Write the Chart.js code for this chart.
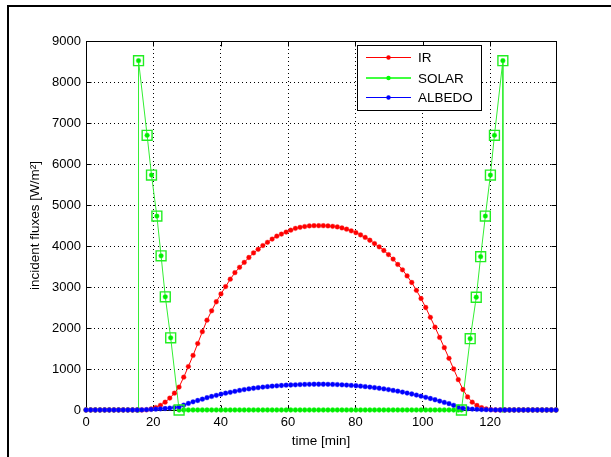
<!DOCTYPE html>
<html>
<head>
<meta charset="utf-8">
<script src="https://cdn.jsdelivr.net/npm/chart.js@4/dist/chart.umd.min.js"></script>
<style>
  html, body { margin: 0; padding: 0; background: #fff; }
  #wrap { position: relative; width: 611px; height: 457px; overflow: hidden; }
  #frame { position: absolute; left: 7px; top: 5px; width: 700px; height: 600px;
           border-top: 2px solid #000; border-left: 2px solid #000; pointer-events: none; }
</style>
</head>
<body>
<div id="wrap">
  <canvas id="c" width="611" height="457"></canvas>
  <div id="frame"></div>
</div>
<script>
// Orbit sampling times [min]
const timeGrid = [
  0, 1.38, 2.76, 4.15, 5.53, 6.91, 8.29, 9.67, 11.06, 12.44,
  13.82, 15.20, 16.58, 17.97, 19.35, 20.73, 22.11, 23.49, 24.88, 26.26,
  27.64, 29.02, 30.40, 31.79, 33.17, 34.55, 35.93, 37.31, 38.70, 40.08,
  41.46, 42.84, 44.22, 45.61, 46.99, 48.37, 49.75, 51.13, 52.52, 53.90,
  55.28, 56.66, 58.04, 59.43, 60.81, 62.19, 63.57, 64.95, 66.34, 67.72,
  69.10, 70.48, 71.86, 73.25, 74.63, 76.01, 77.39, 78.77, 80.16, 81.54,
  82.92, 84.30, 85.68, 87.07, 88.45, 89.83, 91.21, 92.59, 93.98, 95.36,
  96.74, 98.12, 99.50, 100.89, 102.27, 103.65, 105.03, 106.41, 107.80, 109.18,
  110.56, 111.94, 113.32, 114.71, 116.09, 117.47, 118.85, 120.23, 121.62, 123.00,
  124.38, 125.76, 127.14, 128.53, 129.91, 131.29, 132.67, 134.05, 135.44, 136.82,
  138.20, 139.58
];

// Planet infrared flux [W/m2]
const irFlux = [
  0, 0, 0, 0, 0, 0, 0, 0, 0, 0,
  0, 0, 0, 5, 25, 60, 115, 190, 290, 410,
  560, 800, 1060, 1330, 1620, 1910, 2190, 2420, 2640, 2830,
  3010, 3190, 3350, 3480, 3600, 3720, 3830, 3920, 4010, 4090,
  4170, 4240, 4290, 4340, 4385, 4430, 4455, 4475, 4490, 4495,
  4495, 4495, 4490, 4480, 4465, 4440, 4410, 4370, 4325, 4270,
  4210, 4140, 4060, 3980, 3890, 3790, 3680, 3550, 3420, 3270,
  3110, 2920, 2720, 2500, 2260, 2020, 1770, 1520, 1260, 1000,
  740, 500, 320, 190, 110, 55, 25, 8, 0, 0,
  0, 0, 0, 0, 0, 0, 0, 0, 0, 0,
  0, 0
];

// Albedo flux [W/m2]
const albedoFlux = [
  0, 0, 0, 0, 0, 0, 0, 0, 0, 0,
  0, 0, 3, 8, 14, 20, 28, 36, 46, 58,
  75, 120, 160, 200, 232, 265, 300, 330, 358, 385,
  410, 432, 455, 478, 498, 515, 530, 545, 558, 570,
  580, 590, 598, 605, 610, 615, 620, 624, 627, 628,
  628, 628, 627, 624, 620, 614, 607, 600, 592, 582,
  570, 558, 545, 530, 514, 497, 478, 458, 437, 414,
  390, 365, 338, 310, 280, 250, 218, 185, 155, 115,
  70, 42, 30, 22, 16, 11, 7, 4, 2, 0,
  0, 0, 0, 0, 0, 0, 0, 0, 0, 0,
  0, 0
];

// Direct solar flux: eclipse samples plus the sunlit arcs
const solarTimes = [
  0, 1.38, 2.76, 4.15, 5.53, 6.91, 8.29, 9.67, 11.06, 12.44, 13.82, 15.20,
  15.6, 15.6, 18.15, 19.45, 21.05, 22.3, 23.55, 25.15, 27.65,
  29.02, 30.40, 31.79, 33.17, 34.55, 35.93, 37.31, 38.70, 40.08,
  41.46, 42.84, 44.22, 45.61, 46.99, 48.37, 49.75, 51.13, 52.52, 53.90,
  55.28, 56.66, 58.04, 59.43, 60.81, 62.19, 63.57, 64.95, 66.34, 67.72,
  69.10, 70.48, 71.86, 73.25, 74.63, 76.01, 77.39, 78.77, 80.16, 81.54,
  82.92, 84.30, 85.68, 87.07, 88.45, 89.83, 91.21, 92.59, 93.98, 95.36,
  96.74, 98.12, 99.50, 100.89, 102.27, 103.65, 105.03, 106.41, 107.80, 109.18,
  110.56,
  111.5, 114.1, 115.9, 117.2, 118.6, 120.1, 121.3, 123.8, 123.8,
  124.38, 125.76, 127.14, 128.53, 129.91, 131.29, 132.67, 134.05, 135.44, 136.82,
  138.20, 139.58
];
const solarFlux = [
  0, 0, 0, 0, 0, 0, 0, 0, 0, 0, 0, 0,
  0, 8520, 6700, 5730, 4730, 3760, 2760, 1760, 0,
  0, 0, 0, 0, 0, 0, 0, 0, 0,
  0, 0, 0, 0, 0, 0, 0, 0, 0, 0,
  0, 0, 0, 0, 0, 0, 0, 0, 0, 0,
  0, 0, 0, 0, 0, 0, 0, 0, 0, 0,
  0, 0, 0, 0, 0, 0, 0, 0, 0, 0,
  0, 0, 0, 0, 0, 0, 0, 0, 0, 0,
  0,
  0, 1740, 2750, 3740, 4730, 5730, 6700, 8520, 0,
  0, 0, 0, 0, 0, 0, 0, 0, 0, 0,
  0, 0
];

// Sunlit samples highlighted with square markers
const sunTimes = [15.6, 18.15, 19.45, 21.05, 22.3, 23.55, 25.15, 27.65,
                  111.5, 114.1, 115.9, 117.2, 118.6, 120.1, 121.3, 123.8];
const sunFlux = [8520, 6700, 5730, 4730, 3760, 2760, 1760, 0,
                 0, 1740, 2750, 3740, 4730, 5730, 6700, 8520];

const xTickValues = [0, 20, 40, 60, 80, 100, 120];
const yTickValues = [0, 1000, 2000, 3000, 4000, 5000, 6000, 7000, 8000, 9000];
const seriesNames = ['IR', 'SOLAR', 'ALBEDO'];
const seriesColors = ['#ff0000', '#00ff00', '#0000ff'];

const toPoints = (xs, ys) => xs.map((x, i) => ({ x: x, y: ys[i] }));
const FONT = 'Liberation Sans, Arial, Helvetica, sans-serif';

function lineSeries(label, color, halo, data, order) {
  return {
    label: label, data: data, order: order, clip: false,
    borderColor: color, borderWidth: 1, tension: 0,
    pointRadius: 2.4, pointBackgroundColor: color,
    pointBorderColor: halo, pointBorderWidth: 1,
    fill: false
  };
}

// MATLAB-style box, inward ticks and legend
const axesBox = {
  id: 'axesBox',
  beforeDatasetsDraw(chart) {
    const ctx = chart.ctx;
    const a = chart.chartArea;
    const xs = chart.scales.x, ys = chart.scales.y;
    const L = Math.round(a.left) + 0.5, R = Math.round(a.right) + 0.5;
    const T = Math.round(a.top) + 0.5, B = Math.round(a.bottom) + 0.5;
    ctx.save();
    ctx.strokeStyle = '#000';
    ctx.lineWidth = 1;
    ctx.strokeRect(L, T, R - L, B - T);
    ctx.beginPath();
    xs.ticks.forEach(t => {
      const p = Math.round(xs.getPixelForValue(t.value)) + 0.5;
      ctx.moveTo(p, B); ctx.lineTo(p, B - 5);
      ctx.moveTo(p, T); ctx.lineTo(p, T + 5);
    });
    ys.ticks.forEach(t => {
      const p = Math.round(ys.getPixelForValue(t.value)) + 0.5;
      ctx.moveTo(L, p); ctx.lineTo(L + 5, p);
      ctx.moveTo(R, p); ctx.lineTo(R - 5, p);
    });
    ctx.stroke();
    ctx.restore();
  },
  afterDraw(chart) {
    const ctx = chart.ctx;
    ctx.save();
    const bx = 357.5, by = 45.5, bw = 124, bh = 65;
    ctx.fillStyle = '#fff';
    ctx.fillRect(bx, by, bw, bh);
    ctx.strokeStyle = '#000';
    ctx.lineWidth = 1;
    ctx.strokeRect(bx, by, bw, bh);
    const rows = [57.5, 78, 97.5];
    ctx.font = '13.5px ' + FONT;
    ctx.textBaseline = 'middle';
    ctx.textAlign = 'left';
    seriesNames.forEach((name, i) => {
      const y = rows[i];
      ctx.strokeStyle = seriesColors[i];
      ctx.lineWidth = i === 1 ? 1.6 : 1;
      ctx.beginPath();
      ctx.moveTo(366, y); ctx.lineTo(411, y);
      ctx.stroke();
      ctx.fillStyle = seriesColors[i];
      ctx.beginPath();
      ctx.arc(388.5, y, 2.2, 0, Math.PI * 2);
      ctx.fill();
      ctx.fillStyle = '#000';
      ctx.fillText(name, 418, y + 1);
    });
    ctx.restore();
  }
};

new Chart(document.getElementById('c'), {
  type: 'line',
  data: {
    datasets: [
      {
        label: 'sunlit', data: toPoints(sunTimes, sunFlux), order: 0, clip: false,
        showLine: false, pointStyle: 'rect', pointRadius: 7,
        pointBackgroundColor: 'rgba(0,0,0,0)', pointBorderColor: '#22ee22',
        pointBorderWidth: 1.4
      },
      lineSeries('ALBEDO', '#0000ff', 'rgba(60,60,255,0.35)', toPoints(timeGrid, albedoFlux), 1),
      lineSeries('IR', '#ff0000', 'rgba(255,60,60,0.35)', toPoints(timeGrid, irFlux), 2),
      Object.assign(lineSeries('SOLAR', '#00ee00', 'rgba(60,255,60,0.35)', toPoints(solarTimes, solarFlux), 3),
                    { borderColor: '#33ee33' })
    ]
  },
  options: {
    responsive: false,
    animation: false,
    events: [],
    layout: { padding: { left: 0, top: 41, right: 55, bottom: 0 } },
    plugins: { legend: { display: false }, tooltip: { enabled: false } },
    scales: {
      x: {
        type: 'linear', min: 0, max: 139.58,
        afterBuildTicks: s => { s.ticks = xTickValues.map(v => ({ value: v })); },
        afterFit: s => { s.height = 47; },
        ticks: { callback: v => String(v), color: '#000', padding: 5, maxRotation: 0, autoSkip: false,
                 font: { family: FONT, size: 13 } },
        grid: { color: '#000', lineWidth: 1, drawTicks: false },
        border: { display: false, dash: [1, 3] },
        title: { display: true, text: 'time [min]', color: '#000',
                 font: { family: FONT, size: 13.5 }, padding: { top: 0, bottom: 8 } }
      },
      y: {
        type: 'linear', min: 0, max: 9000,
        afterBuildTicks: s => { s.ticks = yTickValues.map(v => ({ value: v })); },
        afterFit: s => { s.width = 86; },
        ticks: { callback: v => String(v), color: '#000', padding: 5,
                 font: { family: FONT, size: 13 } },
        grid: { color: '#000', lineWidth: 1, drawTicks: false },
        border: { display: false, dash: [1, 3] },
        title: { display: true, text: 'incident fluxes [W/m²]', color: '#000',
                 font: { family: FONT, size: 13.5 }, padding: { top: 27, bottom: 0 } }
      }
    }
  },
  plugins: [axesBox]
});
</script>
</body>
</html>
